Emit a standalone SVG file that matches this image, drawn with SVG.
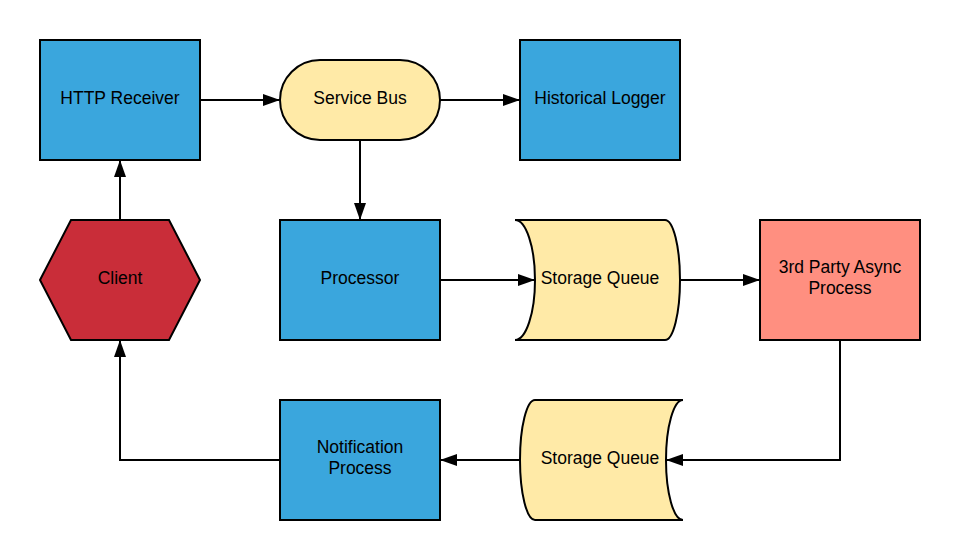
<svg xmlns="http://www.w3.org/2000/svg" width="960" height="560" viewBox="0 0 960 560">
<style>
.n{stroke:#000;stroke-width:2}
.blue{fill:#3aa6dd}
.yel{fill:#ffeaa7}
.sal{fill:#ff8f80}
.red{fill:#c92d39}
text{font-family:"Liberation Sans",Arial,sans-serif;font-size:17.5px;fill:#000;text-anchor:middle}
.c{fill:none;stroke:#000;stroke-width:2}
</style>
<defs>
<marker id="ah" markerUnits="userSpaceOnUse" markerWidth="17" markerHeight="12" refX="16" refY="6" orient="auto">
<path d="M0,0 L17,6 L0,12 Z" fill="#000"/>
</marker>
</defs>
<rect width="960" height="560" fill="#fff"/>
<g id="connectors">
<path class="c" d="M200,100 H279" marker-end="url(#ah)"/>
<path class="c" d="M440,100 H519" marker-end="url(#ah)"/>
<path class="c" d="M360,140 V219" marker-end="url(#ah)"/>
<path class="c" d="M120,220 V161" marker-end="url(#ah)"/>
<path class="c" d="M440,280 H534" marker-end="url(#ah)"/>
<path class="c" d="M680,280 H759" marker-end="url(#ah)"/>
<path class="c" d="M840,340 V460 H667" marker-end="url(#ah)"/>
<path class="c" d="M520,460 H441" marker-end="url(#ah)"/>
<path class="c" d="M280,460 H120 V341" marker-end="url(#ah)"/>
</g>
<g id="http-receiver">
<rect class="n blue" x="40" y="40" width="160" height="120"/>
<text x="120" y="104">HTTP Receiver</text>
</g>
<g id="service-bus">
<rect class="n yel" x="280" y="60" width="160" height="80" rx="40" ry="40"/>
<text x="360" y="104">Service Bus</text>
</g>
<g id="historical-logger">
<rect class="n blue" x="520" y="40" width="160" height="120"/>
<text x="600" y="104">Historical Logger</text>
</g>
<g id="client">
<polygon class="n red" points="40,280 71,220 169,220 200,280 169,340 71,340"/>
<text x="120" y="284">Client</text>
</g>
<g id="processor">
<rect class="n blue" x="280" y="220" width="160" height="120"/>
<text x="360" y="284">Processor</text>
</g>
<g id="storage-queue-1">
<path class="n yel" d="M515,220 H665 A15,60 0 0 1 665,340 H515 A20,60 0 0 0 515,220 Z"/>
<text x="600" y="284">Storage Queue</text>
</g>
<g id="third-party">
<rect class="n sal" x="760" y="220" width="160" height="120"/>
<text x="840" y="273">3rd Party Async</text>
<text x="840" y="294">Process</text>
</g>
<g id="storage-queue-2">
<path class="n yel" d="M535,400 H683 A17,60 0 0 0 683,520 H535 A15,60 0 0 1 535,400 Z"/>
<text x="600" y="464">Storage Queue</text>
</g>
<g id="notification-process">
<rect class="n blue" x="280" y="400" width="160" height="120"/>
<text x="360" y="453">Notification</text>
<text x="360" y="474">Process</text>
</g>
</svg>
